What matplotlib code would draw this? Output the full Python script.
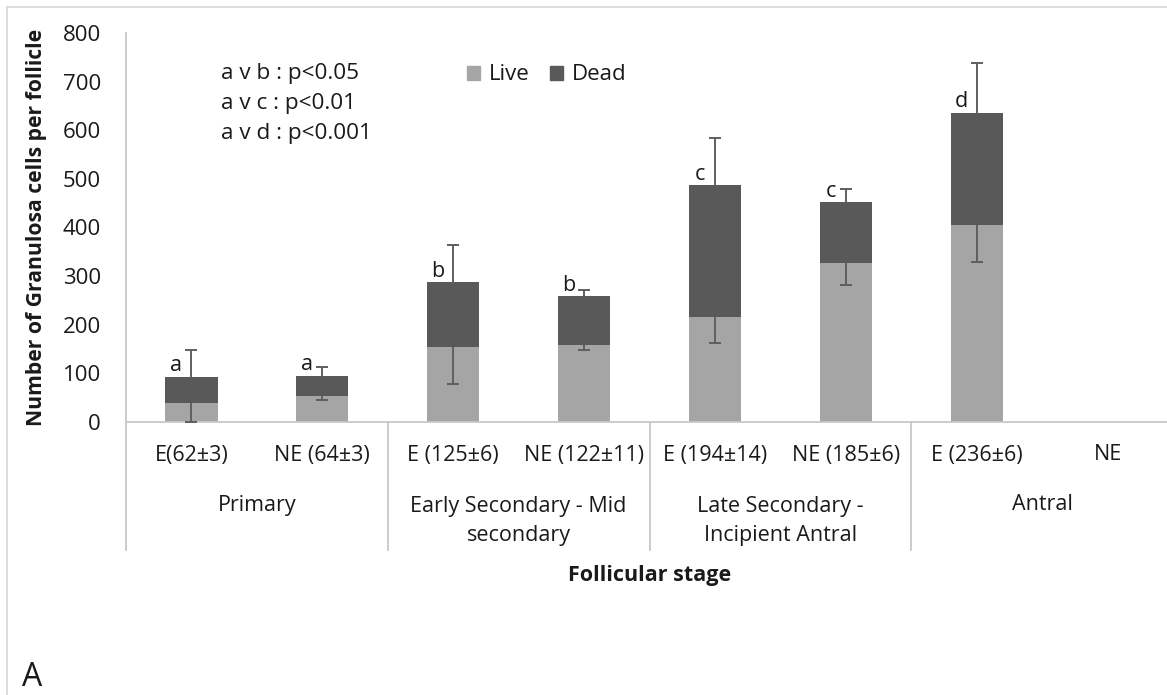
import matplotlib
matplotlib.use("Agg")
import matplotlib.pyplot as plt
from matplotlib.lines import Line2D
from matplotlib.patches import Patch
import matplotlib.transforms as mtransforms
import numpy as np

# ---- data -------------------------------------------------------------
categories = ["E(62\u00b13)", "NE (64\u00b13)", "E (125\u00b16)", "NE (122\u00b111)",
              "E (194\u00b114)", "NE (185\u00b16)", "E (236\u00b16)", "NE"]
groups = ["Primary", "Early Secondary - Mid\nsecondary",
          "Late Secondary -\nIncipient Antral", "Antral"]
live = [39, 52, 153, 157, 216, 326, 404, 0]
dead = [54, 43, 134, 101, 271, 126, 232, 0]
live_err = [39, 7, 76, 10, 53, 45, 76, 0]     # drawn downward from live top
dead_err = [55, 18, 77, 13, 96, 27, 103, 0]   # drawn upward from total top
letters = ["a", "a", "b", "b", "c", "c", "d", ""]
stats_lines = ["a v b : p<0.05", "a v c : p<0.01", "a v d : p<0.001"]

LIVE_C = "#a5a5a5"
DEAD_C = "#595959"
ERR_C = "#5f5f5f"
AXIS_C = "#c8c8c8"
TXT_C = "#1a1a1a"
FONT = "Open Sans"

W, H = 1167, 695
fig = plt.figure(figsize=(W / 100, H / 100), dpi=100)

def fx(px):
    return px / W

def fy(py):
    return 1 - py / H

# plot area (extends slightly past the right edge, as in the layout)
x0, x1, ytop, ybot = 126, 1173, 33, 421.7
ax = fig.add_axes([fx(x0), fy(ybot), fx(x1 - x0), (ybot - ytop) / H])

x = np.arange(len(categories))
bw = 0.4
live_a = np.array(live)
dead_a = np.array(dead)
totals = live_a + dead_a
ax.bar(x, live_a, width=bw, color=LIVE_C, zorder=2, label="Live")
ax.bar(x, dead_a, width=bw, bottom=live_a, color=DEAD_C, zorder=2, label="Dead")

# one-sided error bars: Live downward, Dead upward, cap only at the far end
has = totals > 0
lo = live_a - np.array(live_err)
hi = totals + np.array(dead_err)
ax.vlines(x[has], lo[has], live_a[has], color=ERR_C, lw=1.4, zorder=3)
ax.vlines(x[has], totals[has], hi[has], color=ERR_C, lw=1.4, zorder=3)
for ends in (lo, hi):
    ax.plot(x[has], ends[has], ls="none", marker="_", ms=9, mew=1.4,
            color=ERR_C, zorder=3, clip_on=False)

for xi, t, lab in zip(x, totals, letters):
    if lab:
        ax.annotate(lab, (xi, t), xytext=(-11, 4), textcoords="offset points",
                    ha="center", va="baseline", fontsize=15.5, family=FONT, color=TXT_C)

ax.set_xlim(-0.5, len(categories) - 0.5)
ax.set_ylim(0, 800)
ax.set_yticks(np.arange(0, 801, 100))
ax.tick_params(axis="y", length=0, pad=18, labelsize=16, labelcolor=TXT_C)
for lab in ax.get_yticklabels():
    lab.set_family(FONT)
ax.set_xticks([])
for s in ["top", "right"]:
    ax.spines[s].set_visible(False)
for s in ["left", "bottom"]:
    ax.spines[s].set_color(AXIS_C)
    ax.spines[s].set_linewidth(1.3)

# multi-level category axis below the plot
trans = mtransforms.blended_transform_factory(ax.transData, ax.transAxes)
span = ybot - ytop

def ay(py):
    return (ybot - py) / span

for xi, lab in zip(x, categories):
    ax.text(xi, ay(455), lab, transform=trans, ha="center", va="center",
            fontsize=15.5, family=FONT, color=TXT_C, clip_on=False)
for gi, g in enumerate(groups):
    gx = 2 * gi + 0.5
    gyc = 521 if "\n" in g else 505
    ax.text(gx, ay(gyc), g, transform=trans, ha="center", va="center",
            fontsize=15.5, family=FONT, color=TXT_C, linespacing=1.5,
            clip_on=False)
for sx in np.arange(-0.5, len(categories), 2):
    ax.add_line(Line2D([sx, sx], [0, ay(550)], transform=trans, color=AXIS_C,
                       lw=1.3, clip_on=False))

ax.text(0.5, ay(575), "Follicular stage", transform=ax.transAxes, ha="center",
        va="center", fontsize=15.5, fontweight="bold", family=FONT, color=TXT_C)

fig.text(fx(37), fy(227), "Number of Granulosa cells per follicle", rotation=90,
         ha="center", va="center", fontsize=15.2, fontweight="bold", family=FONT,
         color=TXT_C)

for i, line in enumerate(stats_lines):
    fig.text(fx(221), fy(73 + 30 * i), line, ha="left", va="center",
             fontsize=16.2, family=FONT, color=TXT_C)

handles = [Patch(color=LIVE_C, label="Live"), Patch(color=DEAD_C, label="Dead")]
fig.legend(handles=handles, loc="center left", bbox_to_anchor=(fx(447), fy(75)),
           ncol=2, frameon=False, prop={"family": FONT, "size": 16},
           handlelength=0.6, handleheight=0.6, handletextpad=0.4,
           columnspacing=0.9, labelcolor=TXT_C)

fig.text(fx(22), fy(677), "A", ha="left", va="center", fontsize=23,
         family=FONT, color=TXT_C)

# outer frame
fig.add_artist(Line2D([fx(7), fx(7)], [fy(6.5), 0], color="#d9d9d9", lw=1.3))
fig.add_artist(Line2D([fx(7), 1], [fy(6.5), fy(6.5)], color="#d9d9d9", lw=1.3))

fig.savefig("out.png", dpi=100)
